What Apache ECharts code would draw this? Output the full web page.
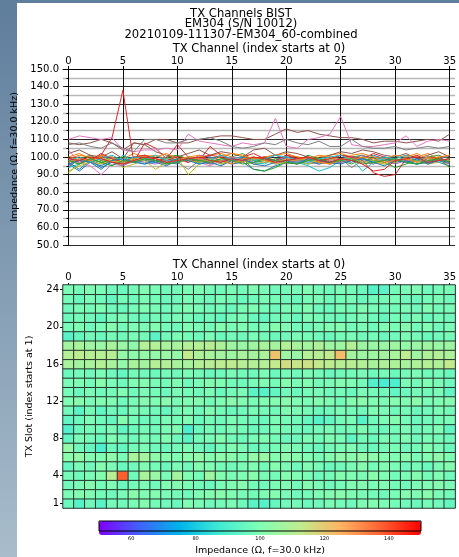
<!DOCTYPE html>
<html>
<head>
<meta charset="utf-8">
<script src="https://cdn.jsdelivr.net/npm/echarts@6/dist/echarts.min.js"></script>
<style>
  html, body { margin: 0; padding: 0; }
  body { width: 459px; height: 557px; background: linear-gradient(#5f7e9c, #a8bccb); position: relative; overflow: hidden; }
  #paper { position: absolute; left: 17px; top: 3px; right: 0; bottom: 0; background: #fff; }
  #chart { position: absolute; left: 0; top: 0; width: 459px; height: 557px; }
</style>
</head>
<body>
<div id="paper"></div>
<div id="chart"></div>
<script>
// TX channel BIST impedance, one row per TX slot (slot 1..24), 36 channels each
var channels = [];
for (var c = 0; c < 36; c++) channels.push(c);
var slots = [];
for (var s = 1; s <= 24; s++) slots.push(s);

var xTicks = [0, 5, 10, 15, 20, 25, 30, 35];
var slotTicks = [1, 4, 8, 12, 16, 20, 24];
var barTicks = [60, 80, 100, 120, 140];

var slot1  = [96,92,97,93,98,97,99,101,98,97,96,100,99,97,98,99,97,93,92,95,97,98,96,97,99,98,97,100,101,99,98,97,96,98,97,95];
var slot2  = [99,101,100,98,97,99,102,100,101,99,98,97,100,101,102,100,99,98,100,101,99,97,98,100,101,102,100,99,98,97,99,101,100,102,99,98];
var slot3  = [97,99,101,98,100,96,98,99,97,100,101,99,98,96,99,100,102,98,97,99,100,98,101,99,97,98,100,101,99,100,98,97,99,100,101,99];
var slot4  = [98,97,99,101,111,138,97,108,105,99,107,100,98,106,101,99,100,102,99,98,101,100,99,97,98,101,100,99,102,100,98,99,101,98,100,97];
var slot5  = [95,99,97,101,99,96,97,100,98,96,99,97,101,100,98,97,99,100,98,101,99,97,100,98,96,97,99,101,98,100,99,97,98,96,99,101];
var slot6  = [102,104,101,100,103,99,108,107,103,101,100,102,104,101,103,102,100,104,105,101,103,102,100,99,101,103,102,104,103,101,100,102,99,101,103,100];
var slot7  = [104,97,95,90,96,95,98,99,97,96,98,99,97,95,98,100,99,96,97,98,100,99,97,96,98,99,100,97,96,98,99,97,98,100,99,96];
var slot8  = [94,99,98,96,100,98,97,99,98,100,97,93,98,99,101,98,97,99,100,98,96,97,99,98,100,99,94,98,96,99,98,100,97,99,98,97];
var slot9  = [91,96,98,97,99,94,96,98,97,99,100,90,96,98,97,99,98,96,97,99,98,97,96,98,99,97,98,100,97,96,98,99,97,98,100,94];
var slot10 = [94,96,99,97,95,101,98,96,97,99,98,100,96,98,97,99,98,97,96,99,98,97,95,92,94,98,99,92,97,99,101,98,96,97,98,99];
var slot11 = [97,93,98,94,97,96,99,98,97,95,98,99,97,100,98,96,97,99,98,97,100,99,98,96,97,99,98,97,100,99,97,98,96,97,99,98];
var slot12 = [100,102,99,101,100,97,99,101,100,102,99,100,101,98,100,102,101,99,100,101,102,100,99,101,100,98,101,102,100,99,101,100,102,99,100,101];
var slot13 = [98,96,99,97,98,100,97,99,98,96,99,98,97,99,96,98,99,93,92,94,97,96,98,99,97,98,96,99,98,97,94,96,98,97,99,94];
var slot14 = [99,100,98,102,99,97,100,101,99,98,100,97,99,101,100,98,97,99,100,98,101,99,100,98,99,101,100,98,91,89,90,99,98,100,99,97];
var slot15 = [96,98,97,99,97,95,98,97,96,98,97,99,98,96,97,99,98,97,99,96,98,97,99,98,96,97,98,99,97,98,96,98,99,97,98,96];
var slot16 = [108,107,108,110,108,104,108,107,110,110,108,108,110,111,112,112,111,110,110,113,116,114,115,113,112,111,111,110,108,109,109,108,109,110,109,113];
var slot17 = [110,112,111,110,111,104,103,104,104,105,104,113,109,108,107,106,108,107,108,122,106,105,110,111,113,123,107,106,106,107,108,112,106,109,110,109];
var slot18 = [107,108,106,105,108,105,103,110,110,108,108,110,110,111,109,106,105,106,108,107,110,108,107,109,106,106,110,106,105,105,106,104,105,106,105,106];
var slot19 = [92,95,97,96,98,97,99,98,93,97,99,98,97,99,96,98,97,99,98,96,97,99,98,97,96,98,99,97,98,96,97,99,98,96,97,98];
var slot20 = [98,100,97,99,101,98,100,99,101,98,97,100,99,98,101,99,100,98,99,101,100,98,97,99,100,101,98,99,97,100,99,101,98,100,97,99];
var slot21 = [96,98,97,95,98,99,97,96,98,97,99,98,96,97,95,98,99,96,95,97,98,96,99,98,97,96,98,99,97,95,98,97,99,96,98,97];
var slot22 = [97,99,98,100,97,96,98,100,99,97,98,100,99,97,98,96,99,100,98,97,99,98,100,97,96,99,98,100,99,97,98,99,97,100,98,99];
var slot23 = [98,96,99,97,95,98,97,99,98,96,97,99,98,97,99,98,96,97,99,98,97,96,98,99,97,98,99,96,97,98,99,97,96,98,99,97];
var slot24 = [99,98,100,99,97,96,98,100,99,97,98,99,100,98,97,99,98,100,99,97,98,99,100,98,97,99,98,96,92,93,98,99,100,97,98,99];

var slotData = [slot1, slot2, slot3, slot4, slot5, slot6, slot7, slot8, slot9, slot10, slot11, slot12,
                slot13, slot14, slot15, slot16, slot17, slot18, slot19, slot20, slot21, slot22, slot23, slot24];

var tab10 = ['#1f77b4','#ff7f0e','#2ca02c','#d62728','#9467bd','#8c564b','#e377c2','#7f7f7f','#bcbd22','#17becf'];
// matplotlib "rainbow"
var rainbow = ['#8000ff','#4062fa','#00b4eb','#40ecd4','#80ffb4','#c0ec8e','#ffb462','#ff6232','#ff0000'];

var FONT = 'DejaVu Sans';

var series = [];
for (var i = 0; i < slotData.length; i++) {
  var pts = [];
  for (var j = 0; j < channels.length; j++) pts.push([channels[j], slotData[i][j]]);
  series.push({
    name: 'slot ' + slots[i],
    type: 'line',
    xAxisIndex: 0, yAxisIndex: 0,
    data: pts,
    symbol: 'none',
    lineStyle: { width: 1, color: tab10[i % 10] },
    itemStyle: { color: tab10[i % 10] },
    silent: true,
    z: 3
  });
}

var heat = [];
for (var i = 0; i < slotData.length; i++) {
  for (var j = 0; j < channels.length; j++) heat.push([j, i, slotData[i][j]]);
}
series.push({
  type: 'heatmap',
  xAxisIndex: 1, yAxisIndex: 1,
  data: heat,
  itemStyle: { borderColor: '#27352d', borderWidth: 1 },
  emphasis: { disabled: true }
});

var myChart = echarts.init(document.getElementById('chart'), null, { renderer: 'canvas' });

var option = {
  animation: false,
  backgroundColor: 'transparent',
  title: {
    text: 'TX Channels BIST\nEM304 (S/N 10012)\n20210109-111307-EM304_60-combined',
    left: 236, top: 4, textAlign: 'center',
    textStyle: { fontFamily: FONT, fontSize: 11.6, fontWeight: 'normal', lineHeight: 10.3, color: '#000' }
  },
  grid: [
    { left: 63, top: 69, width: 395, height: 176 },
    { left: 63, top: 285, width: 395, height: 223 },
    { left: 99, top: 521, width: 322, height: 14, show: true, z: 10, borderColor: '#000', borderWidth: 1, backgroundColor: 'transparent' }
  ],
  xAxis: [
    {
      gridIndex: 0, type: 'value', position: 'top', min: -0.5, max: 35.5,
      name: 'TX Channel (index starts at 0)', nameLocation: 'middle', nameGap: 13,
      nameTextStyle: { fontFamily: FONT, fontSize: 11.5, color: '#000' },
      axisLine: { show: true, lineStyle: { color: '#000' } },
      axisTick: { show: true, length: 3, customValues: xTicks, lineStyle: { color: '#000' } },
      axisLabel: { customValues: xTicks, margin: 3, fontFamily: FONT, fontSize: 10, color: '#000' },
      splitLine: { show: true, lineStyle: { color: '#111', width: 1 } }
    },
    {
      gridIndex: 1, type: 'category', position: 'top', data: channels,
      name: 'TX Channel (index starts at 0)', nameLocation: 'middle', nameGap: 9,
      nameTextStyle: { fontFamily: FONT, fontSize: 11.5, color: '#000' },
      axisLine: { show: true, lineStyle: { color: '#000' } },
      axisTick: { show: true, length: 2, alignWithLabel: true, interval: 4, lineStyle: { color: '#000' } },
      axisLabel: { interval: 4, margin: 3, fontFamily: FONT, fontSize: 10, color: '#000' },
      splitLine: { show: false }
    },
    {
      gridIndex: 2, type: 'value', min: 50, max: 150, interval: 10,
      axisLine: { show: false }, axisTick: { show: false }, splitLine: { show: false },
      axisLabel: {
        margin: 5, fontFamily: FONT, fontSize: 5, color: '#000',
        formatter: function (v) { return barTicks.indexOf(v) >= 0 ? String(v) : ''; }
      },
      name: 'Impedance (\u03a9, f=30.0 kHz)', nameLocation: 'middle', nameGap: 15,
      nameTextStyle: { fontFamily: FONT, fontSize: 9.5, color: '#000' }
    }
  ],
  yAxis: [
    {
      gridIndex: 0, type: 'value', min: 50, max: 150, interval: 10,
      name: 'Impedance (\u03a9, f=30.0 kHz)', nameLocation: 'middle', nameGap: 43,
      nameTextStyle: { fontFamily: FONT, fontSize: 9.5, color: '#000' },
      axisLine: { show: true, lineStyle: { color: '#000' } },
      axisTick: { show: true, length: 3, lineStyle: { color: '#000' } },
      axisLabel: { margin: 4, fontFamily: FONT, fontSize: 10, color: '#000', formatter: function (v) { return v.toFixed(1); } },
      splitLine: { show: true, lineStyle: { color: '#2a2a2a', width: 1 } },
      minorTick: { show: true, splitNumber: 2, length: 2, lineStyle: { color: '#000' } },
      minorSplitLine: { show: true, lineStyle: { color: '#b8b8b8', width: 1.3 } }
    },
    {
      gridIndex: 1, type: 'category', data: slots,
      name: 'TX Slot (index starts at 1)', nameLocation: 'middle', nameGap: 28,
      nameTextStyle: { fontFamily: FONT, fontSize: 9.5, color: '#000' },
      axisLine: { show: true, lineStyle: { color: '#000' } },
      axisTick: { show: true, length: 3, alignWithLabel: true,
        interval: function (idx, val) { return slotTicks.indexOf(Number(val)) >= 0; }, lineStyle: { color: '#000' } },
      axisLabel: { margin: 4, fontFamily: FONT, fontSize: 10, color: '#000',
        interval: function (idx, val) { return slotTicks.indexOf(Number(val)) >= 0; } },
      splitLine: { show: false }
    },
    {
      gridIndex: 2, type: 'value', min: 0, max: 1, show: false
    }
  ],
  visualMap: {
    type: 'continuous', min: 50, max: 150, seriesIndex: 24, dimension: 2,
    orient: 'horizontal', left: 99, top: 521, itemWidth: 14, itemHeight: 322,
    padding: 0, calculable: false, text: null, showLabel: false,
    inRange: { color: rainbow }
  },
  series: series
};
myChart.setOption(option);
</script>
</body>
</html>
